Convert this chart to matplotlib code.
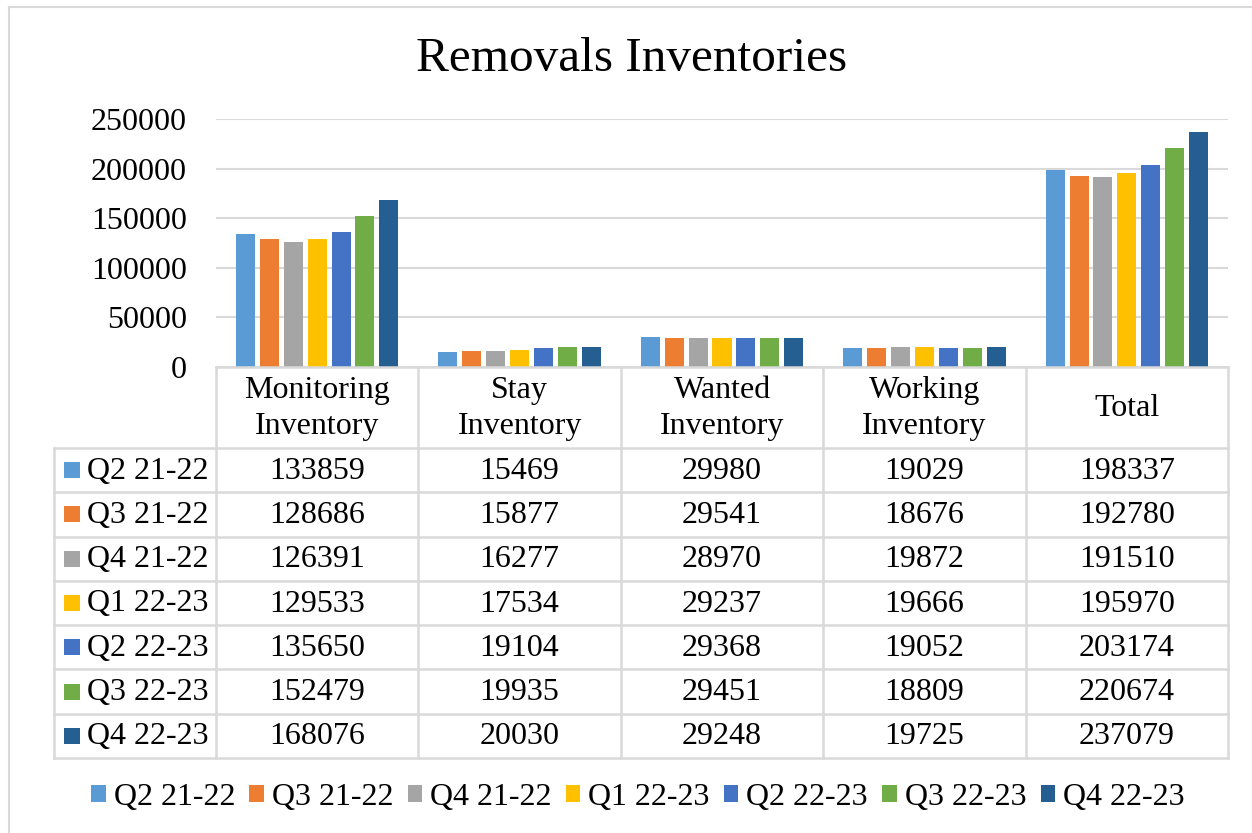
import matplotlib.pyplot as plt
from matplotlib.patches import Patch
from matplotlib.lines import Line2D

plt.rcParams['font.family'] = ['Liberation Serif', 'DejaVu Serif']

categories = ["Monitoring\nInventory", "Stay\nInventory", "Wanted\nInventory",
              "Working\nInventory", "Total"]
series = ["Q2 21-22", "Q3 21-22", "Q4 21-22", "Q1 22-23", "Q2 22-23", "Q3 22-23", "Q4 22-23"]
values = [
    [133859, 15469, 29980, 19029, 198337],
    [128686, 15877, 29541, 18676, 192780],
    [126391, 16277, 28970, 19872, 191510],
    [129533, 17534, 29237, 19666, 195970],
    [135650, 19104, 29368, 19052, 203174],
    [152479, 19935, 29451, 18809, 220674],
    [168076, 20030, 29248, 19725, 237079],
]
colors = ["#5B9BD5", "#ED7D31", "#A5A5A5", "#FFC000", "#4472C4", "#70AD47", "#255E91"]
yticks = [0, 50000, 100000, 150000, 200000, 250000]

W, H = 1252, 833
grid_c = "#d9d9d9"
fs = 23

fig = plt.figure(figsize=(W / 100, H / 100), dpi=100)

def px_box(x0, y0, x1, y1):
    return [x0 / W, 1 - y1 / H, (x1 - x0) / W, (y1 - y0) / H]

# outer chart border (left and top visible)
fig.add_artist(Line2D([9 / W, 9 / W], [0, 1 - 7 / H], color=grid_c, lw=1.5))
fig.add_artist(Line2D([9 / W, 1], [1 - 7 / H, 1 - 7 / H], color=grid_c, lw=1.5))

fig.text(632 / W, 1 - 59 / H, "Removals Inventories", ha="center", va="center", fontsize=35.5)

# bar area
ax = fig.add_axes(px_box(216, 119, 1228, 367))
n = len(series)
step, bw = 0.118, 0.094
xs = range(len(categories))
for i, (name, vals) in enumerate(zip(series, values)):
    off = (i - (n - 1) / 2) * step
    ax.bar([x + off for x in xs], vals, width=bw, color=colors[i], zorder=3, label=name)
ax.set_xlim(-0.5, len(categories) - 0.5)
ax.set_ylim(0, 250000)
ax.set_yticks(yticks)
ax.set_yticklabels([str(t) for t in yticks], fontsize=fs)
ax.tick_params(axis="y", length=0, pad=21)
ax.set_xticks([])
ax.grid(axis="y", color=grid_c, lw=1.5, zorder=0)
for s in ax.spines.values():
    s.set_visible(False)

# data table
tax = fig.add_axes(px_box(54, 367, 1228, 758))
tax.set_xlim(54, 1228)
tax.set_ylim(758, 367)
tax.axis("off")
col_x0, col_w = 216, (1228 - 216) / len(categories)
head_y0, head_y1 = 367, 448
row_h = (758 - 448) / n
lk = dict(color=grid_c, lw=1.8, solid_capstyle="projecting", clip_on=False)

tax.plot([col_x0, 1228], [head_y0, head_y0], **lk)
tax.plot([54, 1228], [head_y1, head_y1], **lk)
for r in range(1, n + 1):
    yy = head_y1 + r * row_h
    tax.plot([54, 1228], [yy, yy], **lk)
tax.plot([54, 54], [head_y1, 758], **lk)
for c in range(len(categories) + 1):
    xx = col_x0 + c * col_w
    tax.plot([xx, xx], [head_y0, 758], **lk)

for c, cat in enumerate(categories):
    tax.text(col_x0 + (c + 0.5) * col_w, (head_y0 + head_y1) / 2 + 1, cat,
             ha="center", va="center", fontsize=fs, linespacing=1.3)

for r, name in enumerate(series):
    yc = head_y1 + (r + 0.5) * row_h
    tax.plot([72], [yc], marker="s", ms=11.5, color=colors[r], mew=0, clip_on=False)
    tax.text(87, yc + 1, name, ha="left", va="center", fontsize=fs)
    for c, v in enumerate(values[r]):
        tax.text(col_x0 + (c + 0.5) * col_w, yc + 1, str(v), ha="center", va="center", fontsize=fs)

# bottom legend
handles = [Patch(facecolor=col, edgecolor="none", label=s) for s, col in zip(series, colors)]
fig.legend(handles=handles, loc="center", bbox_to_anchor=(638 / W, 1 - 797 / H), ncol=n,
           frameon=False, fontsize=fs, handlelength=0.45, handleheight=0.45,
           handletextpad=0.25, columnspacing=0.45, borderpad=0)

fig.savefig("out.png", dpi=100)
